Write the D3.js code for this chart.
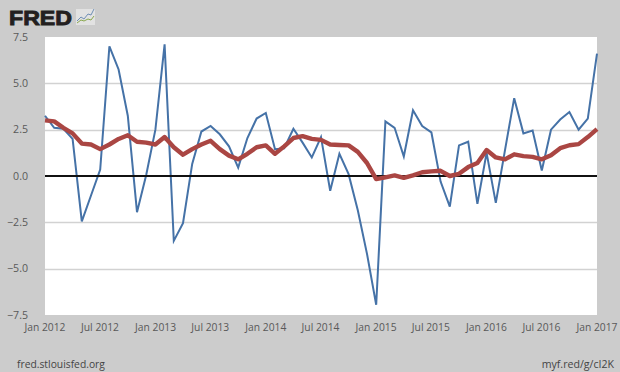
<!DOCTYPE html>
<html><head><meta charset="utf-8">
<script src="https://cdn.jsdelivr.net/npm/d3@7"></script>
<style>html,body{margin:0;padding:0;background:#ccc}svg{display:block}text{font-family:"Open Sans",sans-serif}</style>
</head><body><svg id="c" width="620" height="372"></svg>
<script>
const startDate = "2012-01-01";
const blueValues = [3.25,2.6,2.55,2.0,-2.45,-1.05,0.35,7.0,5.75,3.25,-1.95,0.05,2.5,7.1,-3.5,-2.55,0.65,2.4,2.7,2.25,1.6,0.45,2.05,3.1,3.4,1.45,1.5,2.55,1.8,1.0,2.1,-0.8,1.2,0.1,-1.85,-4.2,-6.95,2.95,2.6,1.05,3.55,2.7,2.35,-0.3,-1.65,1.65,1.85,-1.5,1.25,-1.45,1.4,4.2,2.3,2.45,0.3,2.5,3.05,3.45,2.5,3.1,6.6];
const redValues = [3.0,2.95,2.6,2.3,1.75,1.7,1.45,1.7,2.0,2.2,1.85,1.8,1.7,2.1,1.55,1.15,1.45,1.7,1.9,1.45,1.1,0.9,1.2,1.55,1.65,1.2,1.6,2.05,2.15,2.0,1.95,1.7,1.67,1.65,1.3,0.7,-0.17,-0.07,0.03,-0.1,0.03,0.2,0.25,0.28,0.0,0.12,0.48,0.7,1.4,1.0,0.9,1.17,1.07,1.03,0.9,1.12,1.5,1.66,1.72,2.1,2.53];
const yTicks = [-7.5,-5,-2.5,0,2.5,5,7.5];
const xTickLabels = ["Jan 2012","Jul 2012","Jan 2013","Jul 2013","Jan 2014","Jul 2014","Jan 2015","Jul 2015","Jan 2016","Jul 2016","Jan 2017"];

const svg = d3.select("#c");
const L=45,R=597,T=37,B=315;
const parseLabel = d3.utcParse("%b %Y");
const start = d3.utcParse("%Y-%m-%d")(startDate);
const dates = blueValues.map((_,i)=>d3.utcMonth.offset(start,i));
const x = d3.scaleUtc().domain([dates[0],dates[dates.length-1]]).range([L,R]);
const y = d3.scaleLinear().domain([-7.5,7.5]).range([B,T]);
const xPos = i => L+(R-L)*i/(blueValues.length-1);

svg.append("rect").attr("x",L).attr("y",T).attr("width",R-L).attr("height",B-T).attr("fill","#fff");

svg.append("g").selectAll("line").data(yTicks.filter(v=>v!==7.5&&v!==-7.5&&v!==0)).join("line")
 .attr("x1",L).attr("x2",R).attr("y1",d=>Math.round(y(d))+.5).attr("y2",d=>Math.round(y(d))+.5)
 .attr("stroke","#d2d2d2").attr("stroke-width",1.3);

svg.append("g").selectAll("text").data(yTicks).join("text")
 .attr("x",28).attr("y",d=>y(d)+3.8).attr("text-anchor","end").attr("font-size",10.6).attr("fill","#595959")
 .text(d=>d3.format(".1f")(d));
svg.append("g").selectAll("text").data(xTickLabels).join("text")
 .attr("x",d=>x(parseLabel(d))).attr("y",331).attr("text-anchor","middle").attr("font-size",10.3).attr("fill","#595959")
 .text(d=>d);

const line = d3.line().x((d,i)=>xPos(i)).y(d=>y(d));
svg.append("path").datum(blueValues).attr("d",line).attr("fill","none").attr("stroke","#4572a7").attr("stroke-width",2).attr("stroke-linejoin","miter");
svg.append("line").attr("x1",L).attr("x2",R).attr("y1",y(0)).attr("y2",y(0)).attr("stroke","#111").attr("stroke-width",2);
svg.append("path").datum(redValues).attr("d",line).attr("fill","none").attr("stroke","#aa4643").attr("stroke-width",4.4).attr("stroke-linejoin","round");

svg.append("text").attr("x",17).attr("y",368).attr("font-size",10.3).attr("fill","#444").text("fred.stlouisfed.org");
svg.append("text").attr("x",614).attr("y",368).attr("text-anchor","end").attr("font-size",10.6).attr("fill","#444").text("myf.red/g/cI2K");

svg.append("text").attr("x",9).attr("y",25).attr("font-size",20.5).attr("font-weight",700)
 .style("font-family","'Liberation Sans',sans-serif").attr("fill","#231f20").attr("stroke","#231f20").attr("stroke-width",.9)
 .attr("textLength",63).attr("lengthAdjust","spacingAndGlyphs").text("FRED");
const ic = svg.append("g");
ic.append("rect").attr("x",76).attr("y",9).attr("width",19).attr("height",16).attr("fill","#e2e2e2");
ic.append("path").attr("d","M77 21l4-4 3 2 4-5 3 1 3-6").attr("fill","none").attr("stroke","#6f8fb5").attr("stroke-width",1);
ic.append("path").attr("d","M77 23l4-3 3 1 4-2 3 1 3-4").attr("fill","none").attr("stroke","#8aa84f").attr("stroke-width",1);
</script></body></html>
